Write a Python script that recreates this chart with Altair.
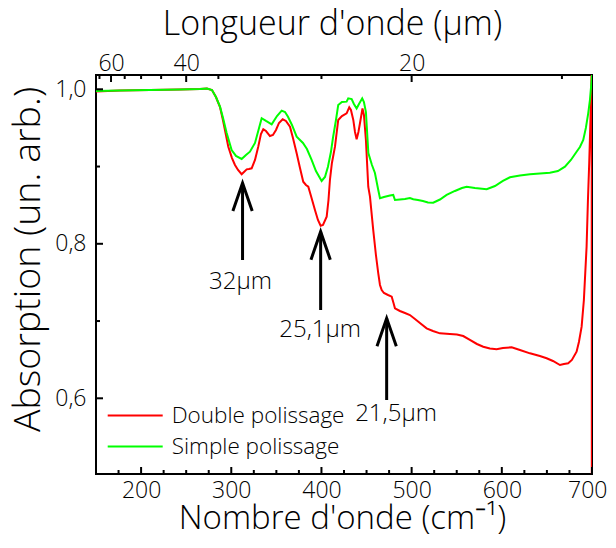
import altair as alt
import pandas as pd

# ---------------- data ----------------
SERIES = ["Double polissage", "Simple polissage"]
COLORS = ["#ff0000", "#00ff00"]

red_wn = [150, 176.6, 209.9, 243.1, 265.3, 273, 278.6, 283, 287.5, 290.8, 294.1, 296.7, 300.8, 304.1,
          307.5, 311.5, 314.1, 317.1, 319.6, 322.6, 326.3, 329.9, 332.9, 335.5, 338.5, 342.9, 346.2,
          349.6, 352.9, 357, 360.6, 365.1, 368.4, 372.5, 376.2, 379.8, 382.8, 385.4, 388.4, 392.8,
          396.1, 399.1, 401.7, 405.8, 407.8, 409.4, 411.6, 415, 418.6, 422.7, 427.9, 430.8, 432.7,
          435.3, 437.2, 439, 441, 442.7, 445.5, 447.1, 449.3, 451.9, 453.8, 457.4, 460.4, 463, 464.9,
          466.8, 469.3, 473.8, 477.9, 479.9, 481.5, 487, 492.6, 498.1, 503.7, 509.2, 516.6, 523.6,
          531.4, 542.4, 550.2, 557.2, 564.6, 572.4, 579.4, 586.8, 594.2, 601.2, 610.9, 620.1, 631.2,
          642.2, 649.7, 656.7, 664.5, 668.9, 673.6, 677.7, 682.9, 685.5, 688.5, 691, 694, 695.5,
          696.9, 698.3, 699.3, 699.6, 699.8]
red_abs = [0.9972, 0.9984, 0.999, 0.9997, 1.0004, 1.001, 0.999, 0.990, 0.977, 0.960, 0.9408, 0.9257,
           0.911, 0.902, 0.8955, 0.890, 0.893, 0.8964, 0.8968, 0.8977, 0.9086, 0.9257, 0.9421, 0.9482,
           0.946, 0.9395, 0.9408, 0.9473, 0.9564, 0.9612, 0.959, 0.9516, 0.937, 0.9172, 0.8981,
           0.8804, 0.8761, 0.8739, 0.8619, 0.8438, 0.8308, 0.8234, 0.8243, 0.8351, 0.8567, 0.8826,
           0.9046, 0.9257, 0.9603, 0.9654, 0.9689, 0.9767, 0.9732, 0.9603, 0.9447, 0.9353, 0.9447,
           0.956, 0.9751, 0.9667, 0.9344, 0.8739, 0.861, 0.8179, 0.7855, 0.7618, 0.7467, 0.7402,
           0.7363, 0.7337, 0.7315, 0.7234, 0.7165, 0.713, 0.7104, 0.7078, 0.7027, 0.6975, 0.6906,
           0.6871, 0.6841, 0.6832, 0.6826, 0.6806, 0.6755, 0.6703, 0.6668, 0.6645, 0.6634, 0.6651,
           0.666, 0.6625, 0.6582, 0.6548, 0.6518, 0.6483, 0.6431, 0.6444, 0.6453, 0.6496, 0.6604,
           0.6729, 0.6927, 0.7272, 0.7962, 0.8567, 0.9042, 0.9603, 1.0095, 1.025, 0.49]

green_wn = [150, 176.6, 209.9, 243.1, 265.3, 273, 278.6, 283, 287.5, 290.8, 294.9, 300.4, 305.2,
            311.5, 316.3, 320.7, 326.3, 330.2, 333.7, 338.5, 344.8, 350.7, 355.9, 359.6, 362.9,
            367.3, 372.5, 379.5, 383.9, 389.1, 393.9, 400.2, 403.9, 407.2, 410.5, 412.7, 416.1,
            418.6, 422.7, 427.9, 429.7, 433.5, 436, 439, 441.6, 445.2, 447.1, 449.3, 452, 456,
            459.3, 463, 464.9, 469.3, 475.9, 479.6, 481.5, 487, 492.6, 498.1, 501.8, 507, 512.5,
            518.1, 523.9, 531.4, 538.8, 548, 555.8, 561, 570.2, 583.2, 592.4, 601.2, 609, 620.1,
            631.2, 642.2, 653.3, 662.2, 670, 676.6, 682.9, 686.6, 690.3, 693.2, 695.8, 697.7,
            699.6, 700.4]
green_abs = [0.9978, 0.9984, 0.999, 0.9997, 1.0004, 1.001, 0.999, 0.990, 0.9775, 0.963, 0.9434,
             0.9214, 0.9137, 0.9098, 0.915, 0.9192, 0.9305, 0.9473, 0.9625, 0.959, 0.9547, 0.9654,
             0.9723, 0.9706, 0.9645, 0.9538, 0.9386, 0.9305, 0.9227, 0.9085, 0.8942, 0.8813,
             0.8865, 0.8998, 0.9188, 0.9366, 0.9603, 0.9797, 0.9836, 0.984, 0.9883, 0.9874, 0.981,
             0.9751, 0.981, 0.9883, 0.9836, 0.9706, 0.9175, 0.902, 0.8917, 0.8696, 0.8589, 0.8606,
             0.8625, 0.8632, 0.8567, 0.8573, 0.858, 0.8593, 0.8576, 0.8567, 0.8554, 0.8535, 0.8532,
             0.8573, 0.8632, 0.8684, 0.8722, 0.8739, 0.8722, 0.8706, 0.8748, 0.8813, 0.8861,
             0.8884, 0.89, 0.891, 0.892, 0.8942, 0.8998, 0.9085, 0.9192, 0.9253, 0.9344, 0.95,
             0.9689, 0.9861, 1.012, 1.025]

# annotations (arrows + labels), in data units
arrow_wn = [312.5, 399.1, 472.3]
arrow_tip = [0.8787, 0.8157, 0.7036]
arrow_tail = [0.779, 0.7143, 0.5978]
label_text = ["32µm", "25,1µm", "21,5µm"]
label_wn = [310.2, 398.5, 482.7]
label_abs = [0.7415, 0.6797, 0.5706]

# axis ticks
X_MAJOR = [200, 300, 400, 500, 600, 700]
X_MINOR = [175, 225, 250, 275, 325, 350, 375, 425, 450, 475, 525, 550, 575, 625, 650, 675]
LAMBDA_MAJOR = [60, 40, 20]
LAMBDA_MINOR = [65, 55, 50, 45, 35, 30, 25, 15]
Y_MAJOR = [0.6, 0.8, 1.0]
Y_MINOR = [0.7, 0.9]

# ---------------- chart ----------------
FONT = "Open Sans"
FW = 300
W, H = 496, 399
MAJ, MIN = 7, 4
xs = alt.Scale(domain=[150, 700], nice=False, zero=False)
ys = alt.Scale(domain=[0.502, 1.0185], nice=False, zero=False)

lines = pd.DataFrame({
    "wn": red_wn + green_wn,
    "absorb": red_abs + green_abs,
    "series": [SERIES[0]] * len(red_wn) + [SERIES[1]] * len(green_wn),
})
ann = pd.DataFrame({
    "ax": arrow_wn, "tip": arrow_tip, "tail": arrow_tail,
    "label": label_text, "lx": label_wn, "ly": label_abs,
})

top_major_vals = [10000.0 / v for v in LAMBDA_MAJOR]
top_minor_vals = [10000.0 / v for v in LAMBDA_MINOR]

ax_bottom = alt.Axis(orient="bottom", values=X_MAJOR, ticks=False, tickSize=0, domain=False,
                     grid=False, labelFontSize=23, labelPadding=5, labelFlush=1,
                     labelFlushOffset=15, labelOverlap=False, labelColor="black", labelFont=FONT,
                     labelFontWeight=FW,
                     title="Nombre d'onde (cm⁻¹)", titleFontSize=33, titleFont=FONT,
                     titleFontWeight=FW, titleColor="black", titleX=246, titleY=54,
                     titleAlign="center", titleBaseline="alphabetic")
ax_top = alt.Axis(orient="top", values=top_major_vals, ticks=False, tickSize=0, domain=False,
                  grid=False, labelExpr="format(10000 / datum.value, '.0f')", labelFontSize=23,
                  labelBaseline="alphabetic", labelPadding=5, labelFlush=False, labelOverlap=False,
                  labelColor="black", labelFont=FONT, labelFontWeight=FW,
                  title="Longueur d'onde (µm)", titleFontSize=34, titleFont=FONT,
                  titleFontWeight=FW, titleColor="black", titleX=236, titleY=-41,
                  titleAlign="center", titleBaseline="alphabetic")
ay_left = alt.Axis(orient="left", values=Y_MAJOR, ticks=False, tickSize=0, domain=False, grid=False,
                   labelExpr="replace(format(datum.value, '.1f'), '.', ',')", labelFontSize=23,
                   labelPadding=10, labelColor="black", labelFont=FONT, labelFontWeight=FW,
                   title="Absorption (un. arb.)", titleFontSize=37.5, titleFont=FONT,
                   titleFontWeight=FW, titleColor="black", titleAngle=270, titleX=-56.5,
                   titleY=184, titleAlign="center", titleBaseline="alphabetic", titleLimit=0)

legend = alt.Legend(orient="none", legendX=10.7, legendY=329.5, title=None, symbolType="stroke",
                    symbolSize=3025, symbolStrokeWidth=2, labelFontSize=22.5, labelFont=FONT,
                    labelFontWeight=FW, labelColor="black", labelOffset=8, labelLimit=0,
                    clipHeight=22, rowPadding=8, padding=0)
color = alt.Color("series:N", scale=alt.Scale(domain=SERIES, range=COLORS), legend=legend)

base = alt.Chart(lines)
red = base.transform_filter(alt.datum.series == SERIES[0]).mark_line(strokeWidth=2, clip=True).encode(
    x=alt.X("wn:Q", scale=xs, axis=ax_bottom),
    y=alt.Y("absorb:Q", scale=ys, axis=ay_left),
    color=color,
    order="wn:Q",
)
green = base.transform_filter(alt.datum.series == SERIES[1]).mark_line(strokeWidth=2, clip=True).encode(
    x=alt.X("wn:Q", scale=xs, axis=ax_top),
    y=alt.Y("absorb:Q", scale=ys, axis=None),
    color=color,
)
shaft = alt.Chart(ann).mark_rule(strokeWidth=3, color="black").encode(
    x=alt.X("ax:Q", scale=xs, axis=None),
    y=alt.Y("tip:Q", scale=ys, axis=None),
    y2="tail:Q",
)
head = alt.Chart(ann).mark_point(shape="M-0.69,2L0,0L0.69,2", size=784, filled=False,
                                 strokeWidth=3, color="black", opacity=1,
                                 strokeJoin="miter", strokeMiterLimit=20).encode(
    x=alt.X("ax:Q", scale=xs, axis=None),
    y=alt.Y("tip:Q", scale=ys, axis=None),
)
labels = alt.Chart(ann).mark_text(font=FONT, fontSize=24, fontWeight=FW, align="center",
                                  baseline="alphabetic", color="black").encode(
    x=alt.X("lx:Q", scale=xs, axis=None),
    y=alt.Y("ly:Q", scale=ys, axis=None),
    text="label:N",
)


# inward-pointing tick marks drawn from the tick-value lists through the shared scales
def xticks(values, at_top, size):
    d = pd.DataFrame({"v": values})
    y0, y1 = (0, size) if at_top else (H, H - size)
    return alt.Chart(d).mark_rule(strokeWidth=2, color="black").encode(
        x=alt.X("v:Q", scale=xs, axis=None), y=alt.value(y0), y2=alt.value(y1))


def yticks(values, size):
    d = pd.DataFrame({"v": values})
    return alt.Chart(d).mark_rule(strokeWidth=2, color="black").encode(
        y=alt.Y("v:Q", scale=ys, axis=None), x=alt.value(0), x2=alt.value(size))


tick_layers = [
    xticks(X_MAJOR, False, MAJ), xticks(X_MINOR, False, MIN),
    xticks(top_major_vals, True, MAJ), xticks(top_minor_vals, True, MIN),
    yticks(Y_MAJOR, MAJ), yticks(Y_MINOR, MIN),
]

chart = alt.layer(red, green, shaft, head, labels, *tick_layers).resolve_axis(
    x="independent", y="independent"
).properties(
    width=W, height=H,
    autosize=alt.AutoSizeParams(type="none"),
    padding={"left": 88, "top": 67, "right": 16, "bottom": 66},
    background="white",
).configure(font=FONT).configure_view(stroke="black", strokeWidth=2)

chart.save("out.html", embed_options={"renderer": "svg", "actions": False})
